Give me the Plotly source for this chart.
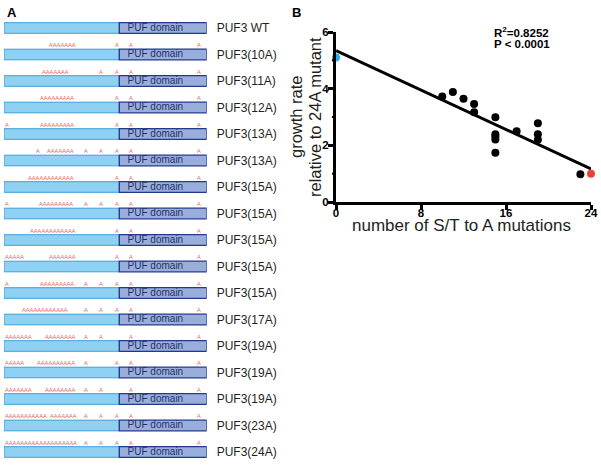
import numpy as np
import plotly.graph_objects as go

W, H = 601, 467
FONT = "Liberation Sans, Arial, sans-serif"

# ---------------- Panel A data ----------------
PROTEIN_LEN = 879
PUF_START = 500
row_labels = ["PUF3 WT", "PUF3(10A)", "PUF3(11A)", "PUF3(12A)", "PUF3(13A)", "PUF3(13A)",
              "PUF3(15A)", "PUF3(15A)", "PUF3(15A)", "PUF3(15A)", "PUF3(15A)", "PUF3(17A)",
              "PUF3(19A)", "PUF3(19A)", "PUF3(19A)", "PUF3(23A)", "PUF3(24A)"]
# mutated S/T sites: (first residue of a run, number of consecutive sites)
mutation_runs = [
    [],
    [(192, 7), (479, 1), (536, 1), (834, 1)],
    [(160, 7), (406, 1), (479, 1), (536, 1), (834, 1)],
    [(153, 9), (479, 1), (536, 1), (834, 1)],
    [(0, 1), (153, 9), (479, 1), (536, 1), (834, 1)],
    [(134, 1), (182, 7), (341, 1), (406, 1), (479, 1), (536, 1), (834, 1)],
    [(98, 12), (479, 1), (536, 1), (834, 1)],
    [(0, 1), (146, 9), (341, 1), (406, 1), (479, 1), (536, 1), (834, 1)],
    [(110, 12), (479, 1), (536, 1), (834, 1)],
    [(0, 5), (189, 7), (479, 1), (536, 1), (834, 1)],
    [(0, 1), (153, 9), (341, 1), (406, 1), (479, 1), (536, 1), (834, 1)],
    [(72, 12), (341, 1), (406, 1), (479, 1), (536, 1), (834, 1)],
    [(0, 7), (175, 8), (341, 1), (406, 1), (536, 1), (834, 1)],
    [(0, 5), (139, 10), (341, 1), (479, 1), (536, 1), (834, 1)],
    [(0, 7), (175, 8), (341, 1), (406, 1), (536, 1), (834, 1)],
    [(0, 11), (194, 7), (341, 1), (406, 1), (479, 1), (536, 1), (834, 1)],
    [(0, 19), (341, 1), (406, 1), (479, 1), (536, 1), (834, 1)],
]

# ---------------- Panel B data ----------------
n_mut = [0, 10, 11, 12, 13, 13, 15, 15, 15, 15, 15, 17, 19, 19, 19, 23, 24]
growth = [5.1, 3.72, 3.88, 3.64, 3.46, 3.17, 2.99, 2.39, 2.31, 2.21, 1.74, 2.5, 2.78, 2.39, 2.2, 0.98, 1.0]
x_ticks = [0, 8, 16, 24]
y_ticks = [0, 2, 4, 6]
y_minor = [1, 3, 5]
r2_text = "R<sup>2</sup>=0.8252"
p_text = "P < 0.0001"

# ---------------- Colors ----------------
LIGHT_FILL, LIGHT_LINE = "#8ed1f2", "#3d9fd8"
PUF_FILL, PUF_LINE = "#9aaedc", "#23398c"
A_COLOR = "#e8645a"

fig = go.Figure()
rows = list(range(len(row_labels)))
BAR_W = 0.40

fig.add_trace(go.Bar(
    y=rows, x=[PUF_START] * len(rows), base=[0] * len(rows), orientation="h", width=BAR_W,
    marker=dict(color=LIGHT_FILL, line=dict(color=LIGHT_LINE, width=1)),
    xaxis="x", yaxis="y", showlegend=False, hoverinfo="skip"))
fig.add_trace(go.Bar(
    y=rows, x=[PROTEIN_LEN - PUF_START] * len(rows), base=[PUF_START] * len(rows),
    orientation="h", width=BAR_W,
    marker=dict(color=PUF_FILL, line=dict(color=PUF_LINE, width=1.3)),
    xaxis="x", yaxis="y", showlegend=False, hoverinfo="skip"))
fig.add_trace(go.Scatter(
    y=rows, x=[PUF_START + 36] * len(rows), mode="text", text=["PUF domain"] * len(rows),
    textposition="middle right", textfont=dict(family=FONT, size=10, color="#24306a"),
    xaxis="x", yaxis="y", showlegend=False, hoverinfo="skip", cliponaxis=False))

annotations = []
for i, runs in enumerate(mutation_runs):
    for start, n in runs:
        annotations.append(dict(
            x=start, y=i - BAR_W / 2, xref="x", yref="y", text="A" * n, showarrow=False,
            xanchor="left", yanchor="bottom", borderpad=0,
            font=dict(family=FONT, size=5.7, color=A_COLOR)))

# Panel B
coef = np.polyfit(n_mut, growth, 1)
fit_x = np.array([x_ticks[0], x_ticks[-1]])
fig.add_trace(go.Scatter(x=fit_x, y=np.polyval(coef, fit_x), mode="lines",
                         line=dict(color="black", width=3), xaxis="x2", yaxis="y2",
                         showlegend=False, cliponaxis=False, hoverinfo="skip"))
colors = ["#29aee3"] + ["black"] * (len(n_mut) - 2) + ["#ec4136"]
fig.add_trace(go.Scatter(x=n_mut, y=growth, mode="markers",
                         marker=dict(color=colors, size=8, line=dict(width=0)),
                         xaxis="x2", yaxis="y2", showlegend=False, cliponaxis=False))

def px(x):
    return x / W

def py(y):
    return 1 - y / H

yA0, yA1 = 28, 26.5
tickfontB = dict(family=FONT, size=11.5, color="black", weight="bold")
fig.update_layout(
    width=W, height=H, margin=dict(l=0, r=0, t=0, b=0, autoexpand=False),
    paper_bgcolor="white", plot_bgcolor="rgba(0,0,0,0)",
    barmode="overlay", font=dict(family=FONT, color="#231f20"),
    xaxis=dict(domain=[px(4), px(206.7)], range=[0, PROTEIN_LEN], visible=False,
               fixedrange=True, automargin=False, anchor="y"),
    yaxis=dict(domain=[0, 1], range=[(H - yA0) / yA1, -yA0 / yA1], side="right",
               tickvals=rows, ticktext=row_labels, ticks="", showline=False, showgrid=False,
               zeroline=False, ticklabelstandoff=9, automargin=False,
               tickfont=dict(family=FONT, size=12, color="#231f20"), anchor="x"),
    xaxis2=dict(domain=[px(336), px(591)], range=[0, 24], tickvals=x_ticks, anchor="y2",
                showline=True, linewidth=3, linecolor="black", ticks="outside", ticklen=5,
                tickwidth=3, tickcolor="black", showgrid=False, zeroline=False,
                automargin=False, tickfont=tickfontB, ticklabelstandoff=-7),
    yaxis2=dict(domain=[py(202), py(32)], range=[0, 6], tickvals=y_ticks, anchor="x2",
                showline=True, linewidth=3, linecolor="black", ticks="outside", ticklen=5,
                tickwidth=3, tickcolor="black", showgrid=False, zeroline=False,
                automargin=False, tickfont=tickfontB, ticklabelstandoff=-3),
)

for v in y_minor:
    fig.add_shape(type="line", xref="x2 domain", yref="y2", x0=-0.016, x1=0, y0=v, y1=v,
                  line=dict(color="black", width=2))

annotations += [
    dict(x=px(5), y=py(3), xref="paper", yref="paper", text="<b>A</b>", showarrow=False,
         xanchor="left", yanchor="top", font=dict(family=FONT, size=13, color="black")),
    dict(x=px(290), y=py(3), xref="paper", yref="paper", text="<b>B</b>", showarrow=False,
         xanchor="left", yanchor="top", font=dict(family=FONT, size=13, color="black")),
    dict(x=px(492), y=py(23), xref="paper", yref="paper", text=f"<b>{r2_text}</b>", showarrow=False,
         xanchor="left", yanchor="top", font=dict(family=FONT, size=11.5, color="black")),
    dict(x=px(492), y=py(36), xref="paper", yref="paper", text=f"<b>{p_text}</b>", showarrow=False,
         xanchor="left", yanchor="top", font=dict(family=FONT, size=11.5, color="black")),
    dict(x=px(461), y=py(225), xref="paper", yref="paper", text="number of S/T to A mutations",
         showarrow=False, xanchor="center", yanchor="middle",
         font=dict(family=FONT, size=17, color="#231f20")),
    dict(x=px(296), y=py(117), xref="paper", yref="paper", text="growth rate", textangle=-90,
         showarrow=False, xanchor="center", yanchor="middle",
         font=dict(family=FONT, size=16.5, color="#231f20")),
    dict(x=px(315), y=py(117), xref="paper", yref="paper", text="relative to 24A mutant", textangle=-90,
         showarrow=False, xanchor="center", yanchor="middle",
         font=dict(family=FONT, size=16.5, color="#231f20")),
]
fig.update_layout(annotations=annotations)

fig.write_html("out.html", config={"displayModeBar": False},
               post_script="document.body.style.margin='0';")
